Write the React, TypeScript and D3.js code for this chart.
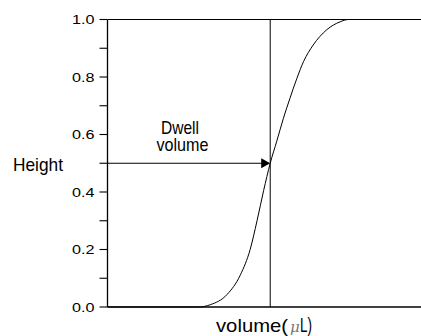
import * as d3 from "d3";

// curve (volume in arbitrary units, height 0..1)
const volume = [0, 29, 32.8, 38.1, 42.4, 45.5, 47.7, 49.8, 51.9, 54.0, 56.1, 58.2, 60.4, 62.5, 65.6, 69.9, 74.2, 76.8, 100];
const height = [0, 0, 0.008, 0.043, 0.112, 0.2, 0.3, 0.405, 0.5, 0.577, 0.656, 0.726, 0.795, 0.853, 0.911, 0.964, 0.992, 1.0, 1.0];
const dwellVolume = 51.9;
const dwellHeight = 0.5;
const majorTicks = [0, 0.2, 0.4, 0.6, 0.8, 1.0];
const minorTicks = [0.1, 0.3, 0.5, 0.7, 0.9];

const W = 421;
const H = 336;

export default function App() {
  const x = d3.scaleLinear().domain([0, 100]).range([107.5, 421]);
  const y = d3.scaleLinear().domain([0, 1]).range([307, 19.5]);

  const pts = volume.map((v, i) => [v, height[i]] as [number, number]);
  const line = d3
    .line<[number, number]>()
    .x(d => x(d[0]))
    .y(d => y(d[1]))
    .curve(d3.curveMonotoneX);

  const font = "'Liberation Sans', Arial, Helvetica, sans-serif";
  const x0 = x.range()[0];
  const ax = x(dwellVolume);
  const ay = y(dwellHeight);

  return (
    <svg
      width={W}
      height={H}
      style={{ position: "absolute", left: 0, top: 0, background: "#fff" }}
      fontFamily={font}
    >
      {/* y axis */}
      <line x1={x0} x2={x0} y1={y(0)} y2={y(1)} stroke="#000" strokeWidth={1.3} />
      {[...majorTicks, ...minorTicks].map(t => (
        <line key={"t" + t} x1={x0 - 8} x2={x0} y1={y(t)} y2={y(t)} stroke="#000" strokeWidth={1.1} />
      ))}
      {majorTicks.map(t => (
        <text
          key={"l" + t}
          x={72}
          y={y(t)}
          dy="0.36em"
          fontSize={13}
          textLength={22.5}
          lengthAdjust="spacingAndGlyphs"
          fill="#000"
        >
          {t.toFixed(1)}
        </text>
      ))}
      {/* bottom axis and top line */}
      <line x1={x0} x2={W} y1={y(0)} y2={y(0)} stroke="#000" strokeWidth={1.3} />
      <line x1={x0} x2={W} y1={y(1)} y2={y(1)} stroke="#000" strokeWidth={1.1} />

      {/* curve */}
      <path d={line(pts) || ""} fill="none" stroke="#000" strokeWidth={1} />

      {/* dwell volume marker */}
      <line x1={ax} x2={ax} y1={y(0)} y2={y(1)} stroke="#000" strokeWidth={1} />
      <line x1={x0} x2={ax - 8} y1={ay} y2={ay} stroke="#000" strokeWidth={1.1} />
      <path d={`M${ax},${ay} L${ax - 9},${ay - 5} L${ax - 9},${ay + 5} Z`} fill="#000" />

      <text x={161} y={134} fontSize={19} textLength={38} lengthAdjust="spacingAndGlyphs">Dwell</text>
      <text x={156.5} y={151} fontSize={19} textLength={52} lengthAdjust="spacingAndGlyphs">volume</text>
      <text x={13} y={170.5} fontSize={19} textLength={50} lengthAdjust="spacingAndGlyphs">Height</text>

      {/* x axis title */}
      <text x={216} y={332} fontSize={19} textLength={72} lengthAdjust="spacingAndGlyphs">volume(</text>
      <text x={290} y={332} fontSize={15} fontStyle="italic" fontFamily="'DejaVu Serif', serif" fill="#777">μ</text>
      <text x={300} y={332} fontSize={20} textLength={12} lengthAdjust="spacingAndGlyphs">L)</text>
    </svg>
  );
}
